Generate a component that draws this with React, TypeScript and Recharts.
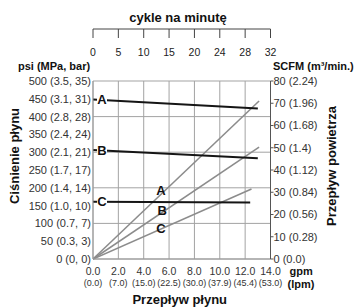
import { LineChart, Line, XAxis, YAxis, CartesianGrid, ReferenceDot, LabelList } from "recharts";

// axis ticks / labels
const gpmTicks = [0, 2, 4, 6, 8, 10, 12, 14];
const lpmLabels = ["0.0", "7.0", "15.0", "22.5", "30.0", "37.9", "45.4", "53.0"];
const cycleLabels = [0, 5, 10, 15, 20, 24, 28, 32];
const psiTicks = [0, 50, 100, 150, 200, 250, 300, 350, 400, 450, 500];
const mpaLabels = ["0", "0.3", "0.7", "1.0", "1.4", "1.7", "2.1", "2.4", "2.8", "3.1", "3.5"];
const barLabels = ["0", "3", "7", "10", "14", "17", "21", "24", "28", "31", "35"];
const scfmTicks = [0, 10, 20, 30, 40, 50, 60, 70, 80];
const m3Labels = ["0.0", "0.28", "0.56", "0.84", "1.12", "1.4", "1.68", "1.96", "2.24"];

// fluid pressure (psi) vs fluid flow (gpm)
const pressureA = [
  { gpm: 0, psi: 448 },
  { gpm: 13.0, psi: 423 },
];
const pressureB = [
  { gpm: 0, psi: 306 },
  { gpm: 13.0, psi: 283 },
];
const pressureC = [
  { gpm: 0, psi: 161 },
  { gpm: 12.4, psi: 159 },
];

// air consumption (scfm) vs fluid flow (gpm)
const airA = [
  { gpm: 0, scfm: 0 },
  { gpm: 13.1, scfm: 71 },
];
const airB = [
  { gpm: 0, scfm: 0 },
  { gpm: 13.1, scfm: 50.3 },
];
const airC = [
  { gpm: 0, scfm: 0 },
  { gpm: 12.5, scfm: 31.5 },
];

// letters next to the air lines
const airLetters = [
  { name: "A", gpm: 5.35, psi: 192 },
  { name: "B", gpm: 5.45, psi: 136 },
  { name: "C", gpm: 5.35, psi: 87 },
];

const topData = gpmTicks.map((g, i) => ({ gpm: g, cycles: cycleLabels[i] }));

const font = "'Liberation Sans', Arial, Helvetica, sans-serif";

const startLetter = (letter: string) => (props: any) => {
  if (props.index !== 0) return null;
  const { x, y } = props;
  return (
    <g>
      <rect x={x + 4} y={y - 7} width={10} height={14} fill="#fff" />
      <text x={x + 9} y={y + 4.5} textAnchor="middle" fontSize={13} fontWeight="bold" fill="#111">
        {letter}
      </text>
    </g>
  );
};

const BottomTick = (props: any) => {
  const { x, y, payload } = props;
  const i = gpmTicks.indexOf(payload.value);
  return (
    <g>
      <text x={x} y={y + 16} textAnchor="middle" fontSize={10.5} fill="#333">
        {Number(payload.value).toFixed(1)}
      </text>
      <text x={x} y={y + 27} textAnchor="middle" fontSize={9} fill="#333">
        ({lpmLabels[i]})
      </text>
    </g>
  );
};

const BottomLabels = (props: any) => {
  const { x, y, width } = props.viewBox;
  return (
    <g fontWeight="bold" fill="#111">
      <text x={x + width + 19} y={y + 16} fontSize={11}>gpm</text>
      <text x={x + width + 17} y={y + 29} fontSize={11}>(lpm)</text>
      <text x={x + width / 2 - 2} y={y + 45} fontSize={13} textAnchor="middle">
        Przepływ płynu
      </text>
    </g>
  );
};

const LeftLabels = (props: any) => {
  const { y, height } = props.viewBox;
  return (
    <g fontWeight="bold" fill="#111">
      <text x={18} y={y - 11} fontSize={11}>psi (MPa, bar)</text>
      <text
        x={14}
        y={y + height / 2 - 14}
        fontSize={13}
        textAnchor="middle"
        dominantBaseline="central"
        transform={`rotate(-90 14 ${y + height / 2 - 14})`}
      >
        Ciśnienie płynu
      </text>
    </g>
  );
};

const RightLabels = (props: any) => {
  const { x, y, height } = props.viewBox;
  const cx = x + 61;
  const cy = y + height / 2 - 4;
  return (
    <g fontWeight="bold" fill="#111">
      <text x={x + 2.5} y={y - 11} fontSize={11}>SCFM (m³/min.)</text>
      <text
        x={cx}
        y={cy}
        fontSize={13}
        textAnchor="middle"
        dominantBaseline="central"
        transform={`rotate(-90 ${cx} ${cy})`}
      >
        Przepływ powietrza
      </text>
    </g>
  );
};

const TopTitle = () => (
  <text x={178} y={22} fontSize={13} fontWeight="bold" fill="#111" textAnchor="middle">
    cykle na minutę
  </text>
);

export default function App() {
  return (
    <div style={{ position: "absolute", left: 0, top: 0, width: 359, height: 307, fontFamily: font, background: "#fff" }}>
      <div style={{ position: "absolute", left: 0, top: 0 }}>
        <LineChart width={359} height={307} margin={{ top: 81, right: 8.5, bottom: 18, left: 8 }}>
          <CartesianGrid yAxisId="psi" stroke="#a3a3a3" />
          <XAxis
            dataKey="gpm"
            type="number"
            domain={[0, 14]}
            ticks={gpmTicks}
            height={30}
            tickLine={false}
            tickSize={0}
            tickMargin={0}
            stroke="#999"
            tick={<BottomTick />}
            label={<BottomLabels />}
            allowDataOverflow
          />
          <YAxis
            yAxisId="psi"
            type="number"
            domain={[0, 500]}
            ticks={psiTicks}
            width={85}
            tickLine={false}
            tickSize={0}
            tickMargin={2}
            stroke="#999"
            tick={{ fontSize: 11, fill: "#333" }}
            tickFormatter={(v: number) => {
              const i = psiTicks.indexOf(v);
              return `${v} (${mpaLabels[i]}, ${barLabels[i]})`;
            }}
            label={<LeftLabels />}
          />
          <YAxis
            yAxisId="scfm"
            orientation="right"
            type="number"
            domain={[0, 80]}
            ticks={scfmTicks}
            width={80}
            tickSize={3}
            tickMargin={0}
            stroke="#555"
            tick={{ fontSize: 11, fill: "#333" }}
            tickFormatter={(v: number) => `${v} (${m3Labels[scfmTicks.indexOf(v)]})`}
            label={<RightLabels />}
          />

          <Line yAxisId="scfm" data={airA} dataKey="scfm" stroke="#8c8c8c" strokeWidth={1.6} dot={false} isAnimationActive={false} />
          <Line yAxisId="scfm" data={airB} dataKey="scfm" stroke="#8c8c8c" strokeWidth={1.6} dot={false} isAnimationActive={false} />
          <Line yAxisId="scfm" data={airC} dataKey="scfm" stroke="#8c8c8c" strokeWidth={1.6} dot={false} isAnimationActive={false} />

          <Line yAxisId="psi" data={pressureA} dataKey="psi" stroke="#151515" strokeWidth={2} dot={false} isAnimationActive={false}>
            <LabelList dataKey="psi" content={startLetter("A")} />
          </Line>
          <Line yAxisId="psi" data={pressureB} dataKey="psi" stroke="#151515" strokeWidth={2} dot={false} isAnimationActive={false}>
            <LabelList dataKey="psi" content={startLetter("B")} />
          </Line>
          <Line yAxisId="psi" data={pressureC} dataKey="psi" stroke="#151515" strokeWidth={2} dot={false} isAnimationActive={false}>
            <LabelList dataKey="psi" content={startLetter("C")} />
          </Line>

          {airLetters.map((p) => (
            <ReferenceDot
              key={p.name}
              yAxisId="psi"
              x={p.gpm}
              y={p.psi}
              r={0}
              fill="none"
              stroke="none"
              label={{ value: p.name, position: "center", fontSize: 13, fontWeight: "bold", fill: "#111" }}
            />
          ))}
        </LineChart>
      </div>
      <div style={{ position: "absolute", left: 0, top: 0, pointerEvents: "none" }}>
        <LineChart width={359} height={70} data={topData} margin={{ top: 29, right: 88.5, bottom: 0, left: 93 }}>
          <XAxis
            dataKey="gpm"
            type="number"
            domain={[0, 14]}
            ticks={gpmTicks}
            orientation="top"
            mirror
            tickSize={9}
            tickMargin={11}
            stroke="#444"
            tick={{ fontSize: 10.5, fill: "#222" }}
            tickFormatter={(v: number) => String(cycleLabels[gpmTicks.indexOf(v)])}
            label={<TopTitle />}
          />
        </LineChart>
      </div>
    </div>
  );
}
